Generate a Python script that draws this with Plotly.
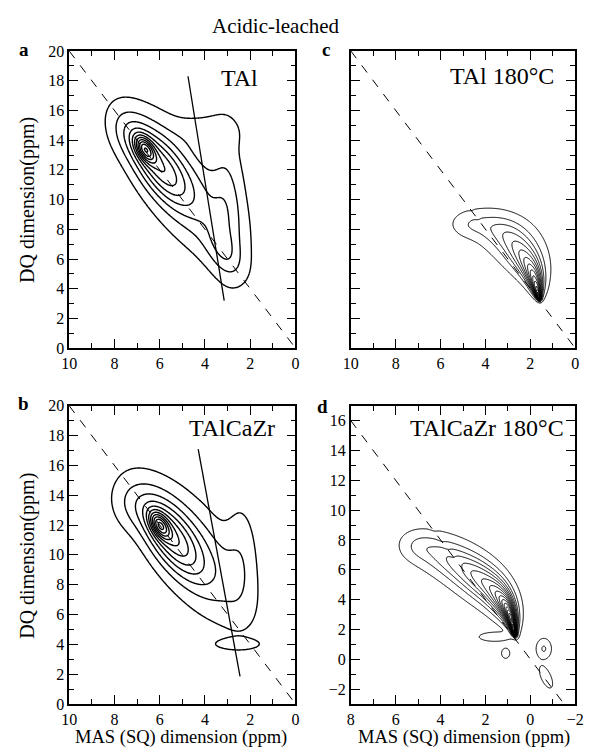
import numpy as np
import plotly.graph_objects as go

W, H = 591, 753

# Peak components:
# (centre SQ ppm, centre DQ ppm, width SQ, width DQ, correlation, height)
peaks_a = [
    (6.65, 13.4, 0.30, 0.6, 0.5, 0.35),
    (6.1, 12.4, 0.9, 1.8, 0.65, 0.30),
    (4.8, 10.8, 1.5, 3.0, 0.65, 0.18),
    (3.0, 10.2, 0.5, 3.3, 0.1, 0.09),
    (3.2, 6.5, 0.6, 1.2, 0.5, 0.09),
    (3.8, 14.6, 0.9, 0.8, 0.0, 0.06),
    (7.5, 14.6, 0.6, 1.2, 0.3, 0.06),
]
peaks_b = [
    (6.0, 12.0, 0.30, 0.6, 0.5, 0.33),
    (5.6, 11.4, 0.9, 1.8, 0.65, 0.30),
    (4.5, 10.2, 1.5, 2.9, 0.65, 0.18),
    (2.4, 10.0, 0.5, 2.5, 0.0, 0.07),
    (7.4, 13.3, 0.6, 1.2, 0.2, 0.06),
    (3.0, 14.0, 0.5, 0.5, 0.0, 0.02),
    (2.6, 4.0, 0.75, 0.28, 0.0, 0.065),
]
peaks_c = [
    (1.62, 3.40, 0.06, 0.12, 0.3, 0.30),
    (1.66, 3.65, 0.10, 0.22, 0.3, 0.25),
    (1.72, 4.05, 0.16, 0.34, 0.3, 0.20),
    (1.80, 4.60, 0.24, 0.48, 0.3, 0.16),
    (1.95, 5.25, 0.34, 0.62, 0.3, 0.12),
    (2.20, 5.95, 0.48, 0.75, 0.3, 0.09),
    (2.55, 6.75, 0.62, 0.85, 0.3, 0.07),
    (3.00, 7.55, 0.75, 0.85, 0.3, 0.05),
    (3.75, 8.20, 0.85, 0.70, 0.2, 0.035),
    (4.70, 8.30, 0.50, 0.50, 0.0, 0.022),
    (3.70, 7.40, 0.60, 1.20, 0.985, -0.006),  # notch along the diagonal
]
peaks_d = [
    (0.72, 1.75, 0.06, 0.14, 0.4, 0.30),
    (0.76, 2.10, 0.10, 0.28, 0.4, 0.25),
    (0.85, 2.70, 0.16, 0.45, 0.4, 0.20),
    (1.00, 3.30, 0.25, 0.65, 0.4, 0.16),
    (1.30, 4.00, 0.40, 0.85, 0.4, 0.12),
    (1.80, 4.80, 0.60, 1.00, 0.45, 0.09),
    (2.50, 5.60, 0.75, 1.05, 0.45, 0.07),
    (3.30, 6.40, 0.85, 1.00, 0.45, 0.05),
    (4.30, 7.20, 0.85, 0.85, 0.3, 0.035),
    (5.00, 7.60, 0.50, 0.60, 0.0, 0.02),
    (1.60, 1.50, 0.50, 0.22, 0.0, 0.03),
    (1.10, 0.40, 0.15, 0.28, 0.0, 0.025),
    (-0.60, 0.70, 0.22, 0.45, 0.0, 0.04),
    (-0.70, -1.20, 0.20, 0.50, 0.6, 0.035),
    (3.40, 6.80, 0.70, 1.40, 0.985, -0.006),  # notch along the diagonal
]

# contour levels (start, end, step)
levels_a = (0.04, 1.0, 0.065)
levels_b = (0.042, 1.0, 0.065)
levels_c = (0.012, 1.0, 0.03)
levels_d = (0.012, 1.0, 0.025)

# axis ranges
xr_a, yr_a = [10, 0], [0, 20]
xr_b, yr_b = [10, 0], [0, 20]
xr_c, yr_c = [10, 0], [0, 20]
xr_d, yr_d = [8, -2], [-3, 17]

# reference lines
diag_a = ([10, 0], [20, 0])
diag_b = ([10, 0], [20, 0])
diag_c = ([10, 0], [20, 0])
diag_d = ([8, -1.5], [16, -3])
fit_a = ([4.75, 3.15], [18.3, 3.2])
fit_b = ([4.3, 2.45], [17.1, 1.85])

labels = ["TAl", "TAlCaZr", "TAl 180°C", "TAlCaZr 180°C"]


def field(xr, yr, comps):
    xg = np.linspace(min(xr), max(xr), 300)
    yg = np.linspace(min(yr), max(yr), 420)
    X, Y = np.meshgrid(xg, yg)
    Z = np.zeros_like(X)
    for cx, cy, sx, sy, rho, amp in comps:
        dx = (X - cx) / sx
        dy = (Y - cy) / sy
        q = (dx * dx - 2 * rho * dx * dy + dy * dy) / (1 - rho * rho)
        Z += amp * np.exp(-0.5 * q)
    return xg, yg, Z


SERIF = "Liberation Serif"
fig = go.Figure()

panels = [
    ("x", "y", peaks_a, levels_a, xr_a, yr_a, diag_a, fit_a, 1.4),
    ("x2", "y2", peaks_b, levels_b, xr_b, yr_b, diag_b, fit_b, 1.4),
    ("x3", "y3", peaks_c, levels_c, xr_c, yr_c, diag_c, None, 1.0),
    ("x4", "y4", peaks_d, levels_d, xr_d, yr_d, diag_d, None, 1.0),
]
for xa, ya, pk, lv, xr, yr, dg, ft, lw in panels:
    xg, yg, Z = field(xr, yr, pk)
    fig.add_trace(go.Contour(
        x=xg, y=yg, z=Z, xaxis=xa, yaxis=ya,
        contours=dict(start=lv[0], end=lv[1], size=lv[2], coloring="lines"),
        colorscale=[[0, "black"], [1, "black"]], line=dict(width=lw),
        showscale=False, hoverinfo="skip"))
    fig.add_trace(go.Scatter(x=dg[0], y=dg[1], mode="lines", xaxis=xa, yaxis=ya,
                             line=dict(color="black", width=1, dash="dash"),
                             showlegend=False, hoverinfo="skip"))
    if ft is not None:
        fig.add_trace(go.Scatter(x=ft[0], y=ft[1], mode="lines", xaxis=xa, yaxis=ya,
                                 line=dict(color="black", width=1.3),
                                 showlegend=False, hoverinfo="skip"))


def px_x(p):
    return p / W


def px_y(p):
    return 1 - p / H


dom = {
    "a": ([px_x(63), px_x(296)], [px_y(348), px_y(44)]),
    "b": ([px_x(63), px_x(296)], [px_y(712), px_y(407)]),
    "c": ([px_x(353), px_x(584)], [px_y(348), px_y(44)]),
    "d": ([px_x(353), px_x(584)], [px_y(712), px_y(407)]),
}

tickfont = dict(family=SERIF, size=16, color="black")


def axis(domain, rng, dtick, anchor, showlabels=True):
    return dict(domain=domain, range=rng, anchor=anchor, dtick=dtick, tick0=0,
                ticks="inside", ticklen=9, tickwidth=1.3, tickcolor="black",
                mirror="allticks", showline=True, linecolor="black", linewidth=1.6,
                showgrid=False, zeroline=False, showticklabels=showlabels,
                tickfont=tickfont, ticklabelstandoff=0,
                minor=dict(ticks="inside", ticklen=5, tickwidth=1.2, tickcolor="black",
                           dtick=dtick / 2, tick0=0, showgrid=False))


fig.update_layout(
    width=W, height=H, margin=dict(l=0, r=0, t=0, b=0),
    font=dict(family=SERIF, color="black"),
    paper_bgcolor="white", plot_bgcolor="white", showlegend=False,
    xaxis=axis(dom["a"][0], xr_a, 2, "y"),
    yaxis=axis(dom["a"][1], yr_a, 2, "x"),
    xaxis2=axis(dom["b"][0], xr_b, 2, "y2"),
    yaxis2=axis(dom["b"][1], yr_b, 2, "x2"),
    xaxis3=axis(dom["c"][0], xr_c, 2, "y3"),
    yaxis3=axis(dom["c"][1], yr_c, 2, "x3", showlabels=False),
    xaxis4=axis(dom["d"][0], xr_d, 2, "y4"),
    yaxis4=axis(dom["d"][1], yr_d, 2, "x4"),
)

ann = []


def add_text(x, y, text, size, bold=False, angle=0, xanchor="center"):
    ann.append(dict(x=px_x(x), y=px_y(y), xref="paper", yref="paper", text=text,
                    showarrow=False, textangle=angle, xanchor=xanchor, yanchor="middle",
                    font=dict(family=SERIF, size=size, color="black",
                              weight="bold" if bold else "normal")))


add_text(276, 18, "Acidic-leached", 21)
add_text(16, 42, "a", 19, bold=True)
add_text(16, 405, "b", 19, bold=True)
add_text(327, 42, "c", 19, bold=True)
add_text(324, 408, "d", 19, bold=True)
add_text(238, 72, labels[0], 24)
add_text(231, 430, labels[1], 24)
add_text(509, 70, labels[2], 24)
add_text(493, 430, labels[3], 24)
add_text(20, 196, "DQ dimension(ppm)", 20, angle=-90)
add_text(20, 560, "DQ dimension(ppm)", 20, angle=-90)
add_text(178, 746, "MAS (SQ) dimension (ppm)", 18.5)
add_text(470, 746, "MAS (SQ) dimension (ppm)", 18.5)
fig.update_layout(annotations=ann)

fig.write_html("out.html")
